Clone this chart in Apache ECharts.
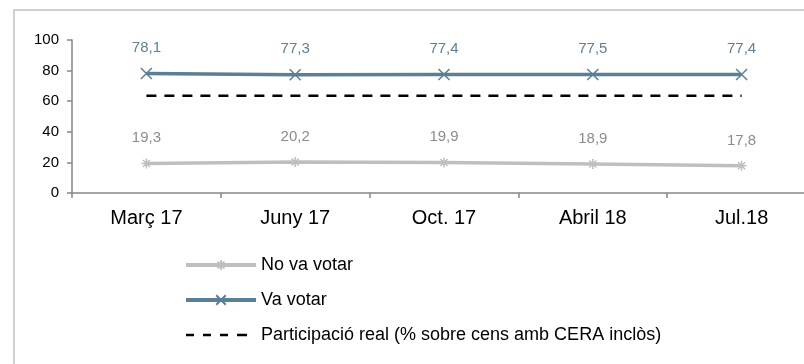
<!DOCTYPE html>
<html>
<head>
<meta charset="utf-8">
<script src="https://cdn.jsdelivr.net/npm/echarts@6/dist/echarts.min.js"></script>
<style>
html,body{margin:0;padding:0;background:#fff;}
#chart{width:804px;height:364px;}
</style>
</head>
<body>
<div id="chart"></div>
<script>
const categories = ['Març 17', 'Juny 17', 'Oct. 17', 'Abril 18', 'Jul.18'];
const noVaVotar = [19.3, 20.2, 19.9, 18.9, 17.8];
const vaVotar = [78.1, 77.3, 77.4, 77.5, 77.4];
const participacioReal = [63.6, 63.6, 63.6, 63.6, 63.6];
const yTicks = [0, 20, 40, 60, 80, 100];

const FONT = '"Liberation Sans", Arial, sans-serif';
const xSym = 'path://M0,0L10,10M10,0L0,10';
const starSym = 'path://M5,0L5,10M0,5L10,5M1.5,1.5L8.5,8.5M8.5,1.5L1.5,8.5';
const dashIcon = 'path://M0,0L0.01,0L0.01,0.01L0,0.01Z M0,4.75L8,4.75L8,7.25L0,7.25Z M17,4.75L25,4.75L25,7.25L17,7.25Z M34,4.75L42,4.75L42,7.25L34,7.25Z M51,4.75L61,4.75L61,7.25L51,7.25Z M69.99,11.99L70,11.99L70,12L69.99,12Z';
const fmt = v => String(v.value !== undefined ? v.value : v).replace('.', ',');

const chart = echarts.init(document.getElementById('chart'), null, {renderer: 'canvas'});
chart.setOption({
  animation: false,
  backgroundColor: '#ffffff',
  textStyle: {fontFamily: FONT},
  graphic: [{
    type: 'rect', z: -1, silent: true,
    shape: {x: 14, y: 10, width: 800, height: 370},
    style: {fill: 'none', stroke: '#d0d0d0', lineWidth: 2}
  }],
  grid: {left: 72, top: 40, width: 744, height: 153, containLabel: false, outerBoundsMode: 'none'},
  legend: {
    orient: 'vertical', left: 179, top: 251,
    itemWidth: 70, itemHeight: 12, itemGap: 17,
    textStyle: {fontFamily: FONT, fontSize: 18, color: '#000'},
    data: [
      {name: 'No va votar', lineStyle: {width: 4}},
      {name: 'Va votar', lineStyle: {width: 4}},
      {name: 'Participació real (% sobre cens amb CERA inclòs)', icon: dashIcon}
    ]
  },
  xAxis: {
    type: 'category', data: categories, boundaryGap: true,
    axisLine: {lineStyle: {color: '#868686', width: 1.5}},
    axisTick: {show: true, length: 5, lineStyle: {color: '#868686', width: 1.5}},
    axisLabel: {fontFamily: FONT, fontSize: 20, color: '#000', margin: 15}
  },
  yAxis: {
    type: 'value', min: yTicks[0], max: yTicks[yTicks.length - 1], interval: 20,
    axisLine: {show: true, lineStyle: {color: '#868686', width: 1.5}},
    axisTick: {show: true, length: 5, lineStyle: {color: '#868686', width: 1.5}},
    splitLine: {show: false},
    axisLabel: {fontFamily: FONT, fontSize: 15, color: '#000', margin: 13}
  },
  series: [
    {
      name: 'No va votar', type: 'line', data: noVaVotar,
      symbol: starSym, symbolSize: 10, showAllSymbol: true,
      lineStyle: {color: '#bfbfbf', width: 3.5},
      itemStyle: {color: '#bfbfbf', borderColor: '#bfbfbf', borderWidth: 1.5},
      label: {show: true, position: 'top', distance: 12, formatter: fmt,
              fontFamily: FONT, fontSize: 15, color: '#8c8c8c'},
      z: 3
    },
    {
      name: 'Va votar', type: 'line', data: vaVotar,
      symbol: xSym, symbolSize: 11, showAllSymbol: true,
      lineStyle: {color: '#5b7f94', width: 3.5},
      itemStyle: {color: '#5b7f94', borderColor: '#5b7f94', borderWidth: 1.5},
      label: {show: true, position: 'top', distance: 12, formatter: fmt,
              fontFamily: FONT, fontSize: 15, color: '#5f7f96'},
      z: 3
    },
    {
      name: 'Participació real (% sobre cens amb CERA inclòs)', type: 'line', data: participacioReal,
      symbol: 'none',
      lineStyle: {color: '#000', width: 2.5, type: [10, 8]},
      itemStyle: {color: '#000'},
      z: 2
    }
  ]
});
</script>
</body>
</html>
